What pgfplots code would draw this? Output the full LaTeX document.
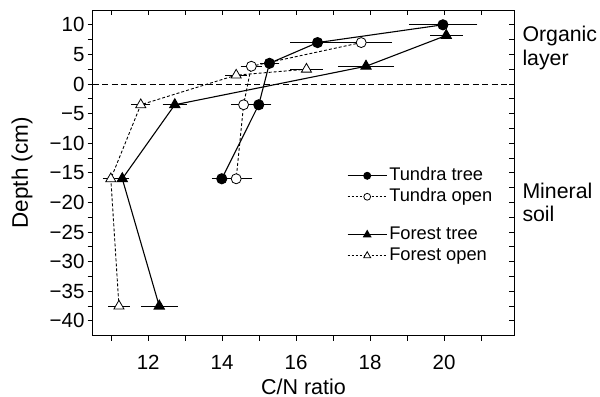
\documentclass[border=0pt]{standalone}
\usepackage{pgfplots}
\pgfplotsset{compat=1.18}
\usepackage{fontspec}
\setmainfont{Liberation Sans}

\pgfplotstableread{
x     y     ep    em
19.97 10    0.84  0.83
16.58 7     0.50  0.65
15.28 3.5   0.18  0.17
14.99 -3.5  0.25  0.15
13.99 -16   0.18  0.18
}\tundratree
\pgfplotstableread{
x     y     ep    em
17.76 7     0.75  0.50
14.79 3     0.20  0.20
14.58 -3.5  0.25  0.25
14.38 -16   0.35  0.35
}\tundraopen
\pgfplotstableread{
x     y     ep    em
20.06 8.2   0.35  0.35
17.89 3     0.67  0.67
12.72 -3.5  0.24  0.24
11.30 -16   0.10  0.10
12.30 -37.5 0.41  0.40
}\foresttree
\pgfplotstableread{
x     y     ep    em
16.28 2.5   0.35  0.35
14.38 1.5   0.20  0.20
11.80 -3.5  0.17  0.17
10.99 -16   0.13  0.13
11.21 -37.5 0.20  0.20
}\forestopen

\pgfplotsset{
  cnaxis/.style={
    width=421.6bp, height=325.7bp, scale only axis,
    xmin=10.5, xmax=21.9, ymin=-42.5, ymax=12.5,
    xtick={12,14,16,18,20}, minor xtick={11,13,15,17,19,21},
    ytick={-40,-35,-30,-25,-20,-15,-10,-5,0,5,10},
    minor ytick={-37.5,-32.5,-27.5,-22.5,-17.5,-12.5,-7.5,-2.5,2.5,7.5},
    major tick length=5bp, minor tick length=5bp,
    axis line style={line width=0.9bp, black},
    tick style={line width=0.9bp, black},
    clip=false,
    legend image code/.code={
      \draw[##1, mark=none] (0bp,0bp) -- (39bp,0bp);
      \draw[##1] plot coordinates {(19.5bp,0bp)};
    },
    legend style={draw=none, fill=none, anchor=north west,
      legend cell align=left, row sep=0bp,
      font=\fontsize{18.3bp}{21bp}\selectfont,
      nodes={inner sep=2bp, text height=13bp, text depth=4bp}},
  },
  errs/.style={error bars/.cd, x dir=both, x explicit,
    error bar style={line width=0.8bp, solid, black},
    error mark options={line width=0.8bp, mark size=3.3bp, solid, black}},
}

\begin{document}
\begin{tikzpicture}[font=\fontsize{18bp}{21bp}\selectfont]
\begin{axis}[cnaxis, name=main, tick align=outside, xtick pos=left, ytick pos=left,
  xticklabels={12,14,16,18,20},
  yticklabels={−40,−35,−30,−25,−20,−15,−10,−5,0,5,10},
  tick label style={font=\fontsize{20.5bp}{23bp}\selectfont},
  xticklabel style={anchor=base, inner sep=0pt, yshift=-28.5bp},
  yticklabel style={anchor=east, inner sep=0pt, xshift=-3bp},
  xlabel={C/N ratio}, ylabel={Depth (cm)},
  xlabel style={font=\fontsize{21.5bp}{24bp}\selectfont, at={(axis description cs:0.5,-0.179)}, anchor=base},
  ylabel style={font=\fontsize{22.5bp}{25bp}\selectfont, at={(axis description cs:-0.1535,0.5)}, anchor=base},
  legend style={at={(axis description cs:0.596,0.530)}},
]
\addplot[black, line width=1bp, dash pattern=on 6bp off 3.5bp, forget plot] coordinates {(10.5,0) (21.9,0)};

\addplot[forget plot, black, line width=0.9bp, dash pattern=on 3bp off 2bp, mark=*, mark size=5bp,
  mark options={solid, fill=white, line width=0.8bp}, errs]
  table[x=x, y=y, x error plus=ep, x error minus=em] {\tundraopen};
\addplot[forget plot, black, line width=1.1bp, solid, mark=*, mark size=5bp,
  mark options={solid, fill=black}, errs]
  table[x=x, y=y, x error plus=ep, x error minus=em] {\tundratree};
\addplot[forget plot, black, line width=0.9bp, dash pattern=on 3bp off 2bp, mark=triangle*, mark size=5.8bp,
  mark options={solid, fill=white, line width=0.8bp}, errs]
  table[x=x, y=y, x error plus=ep, x error minus=em] {\forestopen};
\addplot[forget plot, black, line width=1.1bp, solid, mark=triangle*, mark size=5.8bp,
  mark options={solid, fill=black}, errs]
  table[x=x, y=y, x error plus=ep, x error minus=em] {\foresttree};

\addlegendimage{black, line width=1.1bp, solid, mark=*, mark size=3.4bp, mark options={solid, fill=black}}
\addlegendentry{Tundra tree}
\addlegendimage{black, line width=0.8bp, dash pattern=on 2.5bp off 1.5bp, mark=*, mark size=3.4bp, mark options={solid, fill=white, line width=0.8bp}}
\addlegendentry{Tundra open}

\begin{scope}[font=\fontsize{21.3bp}{24bp}\selectfont]
\node[anchor=base west, inner sep=0pt, xshift=8bp] at (axis cs:21.9,7.26) {Organic};
\node[anchor=base west, inner sep=0pt, xshift=8bp] at (axis cs:21.9,3.2) {layer};
\node[anchor=base west, inner sep=0pt, xshift=8bp] at (axis cs:21.9,-19.3) {Mineral};
\node[anchor=base west, inner sep=0pt, xshift=8bp] at (axis cs:21.9,-23.2) {soil};
\end{scope}
\end{axis}
\begin{axis}[cnaxis, tick align=inside, xtick pos=right, ytick pos=right,
  xticklabels={}, yticklabels={},
  legend style={at={(axis description cs:0.596,0.349)}},
]
\addlegendimage{black, line width=1.1bp, solid, mark=triangle*, mark size=4bp, mark options={solid, fill=black}}
\addlegendentry{Forest tree}
\addlegendimage{black, line width=0.8bp, dash pattern=on 2.5bp off 1.5bp, mark=triangle*, mark size=4bp, mark options={solid, fill=white, line width=0.8bp}}
\addlegendentry{Forest open}
\end{axis}
\pgfresetboundingbox
\path (-92.7bp,-61.3bp) rectangle (507.3bp,335.7bp);
\end{tikzpicture}
\end{document}
